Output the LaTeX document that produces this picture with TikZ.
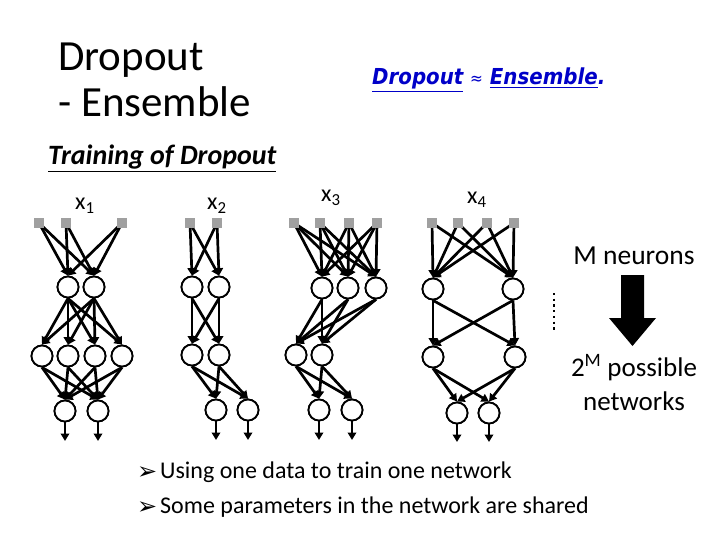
\documentclass[tikz,border=0pt]{standalone}
\usepackage{fontspec}
\setmainfont{Carlito}
\newfontfamily\dv{DejaVu Sans}
\usetikzlibrary{arrows.meta}
\definecolor{inpgray}{RGB}{160,160,160}
\definecolor{linkblue}{RGB}{0,0,200}
\tikzset{
  neuron/.style={circle,draw,line width=1.8pt,fill=white,minimum size=21pt,inner sep=0pt},
  inp/.style={rectangle,fill=inpgray,minimum size=9.5pt,inner sep=0pt},
  conn/.style={line width=2.7pt,-{Triangle[length=7.5pt,width=8.5pt]}},
  txt/.style={inner sep=0pt,anchor=base west},
}
\newcommand{\mybullet}{\makebox[23pt][l]{\dv\fontsize{24}{24}\selectfont\raisebox{-1pt}{➢}}}
\begin{document}
\begin{tikzpicture}[x=1pt,y=-1pt]
\useasboundingbox (0,0) rectangle (720,540);
% texts
\node[txt] (t1) at (58,71) {\fontsize{43}{43}\selectfont Dropout};
\node[txt] (t2) at (58,117) {\fontsize{43}{43}\selectfont - Ensemble};
\node[txt,text=linkblue] (t3) at (372,85) {\scalebox{0.9}[1]{\fontsize{22}{22}\selectfont\dv\bfseries\itshape \underline{Dropout} {\mdseries\upshape\fontsize{17}{17}\selectfont ≈} \underline{Ensemble}.}};
\node[txt] (t4) at (48,165) {\fontsize{28}{28}\selectfont\bfseries\itshape \underline{Training of Dropout}};
\node[txt] (lx1) at (75,210) {\fontsize{24}{24}\selectfont x\textsubscript{1}};
\node[txt] (lx2) at (207,210) {\fontsize{24}{24}\selectfont x\textsubscript{2}};
\node[txt] (lx3) at (321,202) {\fontsize{24}{24}\selectfont x\textsubscript{3}};
\node[txt] (lx4) at (467,204) {\fontsize{24}{24}\selectfont x\textsubscript{4}};
\node[inner sep=0pt,anchor=base] (mn) at (634,264) {\fontsize{27.5}{27.5}\selectfont M neurons};
\node[inner sep=0pt,anchor=base] (pn) at (634,376) {\fontsize{27}{27}\selectfont 2\textsuperscript{M} possible};
\node[inner sep=0pt,anchor=base] (nw) at (634,410) {\fontsize{27}{27}\selectfont networks};
\node[txt] (b1) at (137,478) {\fontsize{24}{24}\selectfont\mybullet Using one data to train one network};
\node[txt] (b2) at (137,513) {\fontsize{24}{24}\selectfont\mybullet Some parameters in the network are shared};
% block arrow
\fill (621,275) -- (644,275) -- (644,318) -- (656,318) -- (632.5,346) -- (609,318) -- (621,318) -- cycle;
% dots
\draw[line width=2.3pt,dash pattern=on 2.3pt off 3.4pt] (554,293) -- (554,330);
% ---- network 1
\foreach \n/\x in {1/39,2/66,3/122} \node[inp] (a\n) at (\x,223) {};
\foreach \n/\x in {1/68,2/94} \node[neuron] (ah\n) at (\x,287) {};
\foreach \n/\x in {1/42,2/68,3/95,4/122} \node[neuron] (ag\n) at (\x,356) {};
\foreach \n/\x in {1/65,2/98} {\node[neuron] (ao\n) at (\x,411) {}; \coordinate (ae\n) at (\x,441);}
\foreach \i in {1,2,3} \foreach \j in {1,2} \draw[conn] (a\i.center) -- (ah\j.north);
\foreach \i in {1,2} \foreach \j in {1,2,3,4} \draw[conn] (ah\i.south) -- (ag\j.north);
\foreach \i in {1,2,3,4} \foreach \j in {1,2} \draw[conn] (ag\i.south) -- (ao\j.north);
\foreach \j in {1,2} \draw[conn] (ao\j.south) -- (ae\j);
% ---- network 2
\foreach \n/\x in {1/190,2/217} \node[inp] (b\n) at (\x,223) {};
\foreach \n/\x in {1/192,2/219} \node[neuron] (bh\n) at (\x,287) {};
\foreach \n/\x in {1/192,2/219} \node[neuron] (bg\n) at (\x,355) {};
\foreach \n/\x in {1/216,2/248} {\node[neuron] (bo\n) at (\x,410) {}; \coordinate (be\n) at (\x,440);}
\foreach \i in {1,2} \foreach \j in {1,2} \draw[conn] (b\i.center) -- (bh\j.north);
\foreach \i in {1,2} \foreach \j in {1,2} \draw[conn] (bh\i.south) -- (bg\j.north);
\foreach \i in {1,2} \foreach \j in {1,2} \draw[conn] (bg\i.south) -- (bo\j.north);
\foreach \j in {1,2} \draw[conn] (bo\j.south) -- (be\j);
% ---- network 3
\foreach \n/\x in {1/294,2/320,3/349,4/377} \node[inp] (c\n) at (\x,223) {};
\foreach \n/\x in {1/322,2/348,3/376} \node[neuron] (ch\n) at (\x,288) {};
\foreach \n/\x in {1/296,2/322} \node[neuron] (cg\n) at (\x,355) {};
\foreach \n/\x in {1/319,2/352} {\node[neuron] (co\n) at (\x,410) {}; \coordinate (ce\n) at (\x,440);}
\foreach \i in {1,2,3,4} \foreach \j in {1,2,3} \draw[conn] (c\i.center) -- (ch\j.north);
\foreach \i in {1,2,3} \foreach \j in {1,2} \draw[conn] (ch\i.south) -- (cg\j.north);
\foreach \i in {1,2} \foreach \j in {1,2} \draw[conn] (cg\i.south) -- (co\j.north);
\foreach \j in {1,2} \draw[conn] (co\j.south) -- (ce\j);
% ---- network 4
\foreach \n/\x in {1/432,2/458,3/487,4/514} \node[inp] (d\n) at (\x,223) {};
\foreach \n/\x in {1/433,2/513} \node[neuron] (dh\n) at (\x,289) {};
\foreach \n/\x in {1/433,2/515} \node[neuron] (dg\n) at (\x,357) {};
\foreach \n/\x in {1/457,2/489} {\node[neuron] (do\n) at (\x,413) {}; \coordinate (de\n) at (\x,442);}
\foreach \i in {1,2,3,4} \foreach \j in {1,2} \draw[conn] (d\i.center) -- (dh\j.north);
\foreach \i in {1,2} \foreach \j in {1,2} \draw[conn] (dh\i.south) -- (dg\j.north);
\foreach \i in {1,2} \foreach \j in {1,2} \draw[conn] (dg\i.south) -- (do\j.north);
\foreach \j in {1,2} \draw[conn] (do\j.south) -- (de\j);
% redraw neurons and inputs on top of the links
\foreach \p in {ah1,ah2,ag1,ag2,ag3,ag4,ao1,ao2,bh1,bh2,bg1,bg2,bo1,bo2,ch1,ch2,ch3,cg1,cg2,co1,co2,dh1,dh2,dg1,dg2,do1,do2}
  \draw[line width=1.8pt,fill=white] (\p.center) circle (10.5pt);
\foreach \p in {a1,a2,a3,b1,b2,c1,c2,c3,c4,d1,d2,d3,d4}
  \fill[inpgray] ([shift={(-4.75pt,-4.75pt)}]\p.center) rectangle ([shift={(4.75pt,4.75pt)}]\p.center);
\end{tikzpicture}
\end{document}
